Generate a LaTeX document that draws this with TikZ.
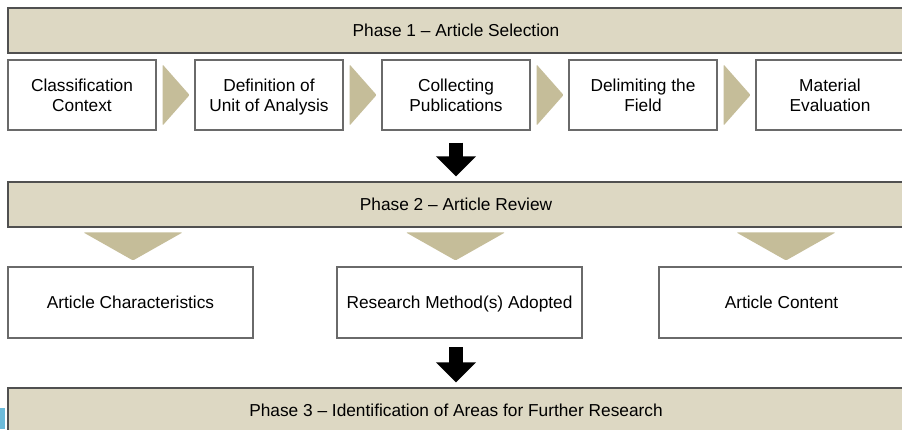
\documentclass[tikz,border=0pt]{standalone}
\usepackage{fontspec}
\setmainfont{Liberation Sans}
\usetikzlibrary{arrows.meta,calc}
\definecolor{barfill}{HTML}{DDD8C3}
\definecolor{chevfill}{HTML}{C5BD99}
\definecolor{bardraw}{HTML}{505050}
\definecolor{boxdraw}{HTML}{6A6A6A}
\definecolor{tabblue}{HTML}{6CBBDA}
\newcommand\sline[1]{\rule{0pt}{12.5pt}\smash{#1}}
\begin{document}
\begin{tikzpicture}[x=1pt,y=-1pt,
  every node/.style={font=\fontsize{17.3}{20}\selectfont, inner sep=0pt, align=center},
  phasebar/.style={draw=bardraw, line width=1.3pt, fill=barfill, minimum width=896pt, minimum height=45pt},
  stepbox/.style={draw=boxdraw, line width=1.1pt, fill=white, minimum width=148pt, minimum height=70pt},
  catbox/.style={draw=boxdraw, line width=1.1pt, fill=white, minimum width=245pt, minimum height=71pt},
  chev/.style={fill=chevfill, rounded corners=1pt},
  bigarrow/.style={line width=14pt, -{Triangle[length=20pt,width=39pt]}}]
\useasboundingbox (0,0) rectangle (902,429);
\clip (0,0) rectangle (902,429);
\fill[white] (0,0) rectangle (902,429);

% Phase 1
\node[phasebar] (p1) at (456,30.5) {\sline{Phase 1 -- Article Selection}};
\node[stepbox] (s1) at (82,95) {\sline{Classification}\\\sline{Context}};
\node[stepbox] (s2) at (269,95) {\sline{Definition of}\\\sline{Unit of Analysis}};
\node[stepbox] (s3) at (456,95) {\sline{Collecting}\\\sline{Publications}};
\node[stepbox] (s4) at (643,95) {\sline{Delimiting the}\\\sline{Field}};
\node[stepbox] (s5) at (830,95) {\sline{Material}\\\sline{Evaluation}};

\foreach \a/\b in {s1/s2,s2/s3,s3/s4,s4/s5}{
  \fill[chev] ($(\a.north east)+(6,5)$) -- ($(\a.east)+(33,0)$) -- ($(\a.south east)+(6,-5)$) -- cycle;
}

% Phase 2
\node[phasebar] (p2) at (456,204.5) {\sline{Phase 2 -- Article Review}};
\node[catbox] (c1) at (130.5,302.5) {\sline{Article Characteristics}};
\node[catbox] (c2) at (459.5,302.5) {\sline{Research Method(s) Adopted}};
\node[catbox] (c3) at (781.5,302.5) {\sline{Article Content}};

\foreach \c/\dx in {c1/2.5,c2/-4,c3/4.5}{
  \fill[chev] ($(\c.north)+(\dx-49.5,-34)$) -- ($(\c.north)+(\dx+49.5,-34)$) -- ($(\c.north)+(\dx,-6)$) -- cycle;
}

% Phase 3
\node[phasebar] (p3) at (456,410.5) {\sline{Phase 3 -- Identification of Areas for Further Research}};

% big arrows
\draw[bigarrow] ([yshift=-12pt]s3.south) -- ([yshift=5pt]p2.north);
\draw[bigarrow] ([yshift=40pt]p3.north) -- ([yshift=5pt]p3.north);

% small blue tab
\fill[tabblue] (0,408) rectangle (5,429);
\end{tikzpicture}
\end{document}
